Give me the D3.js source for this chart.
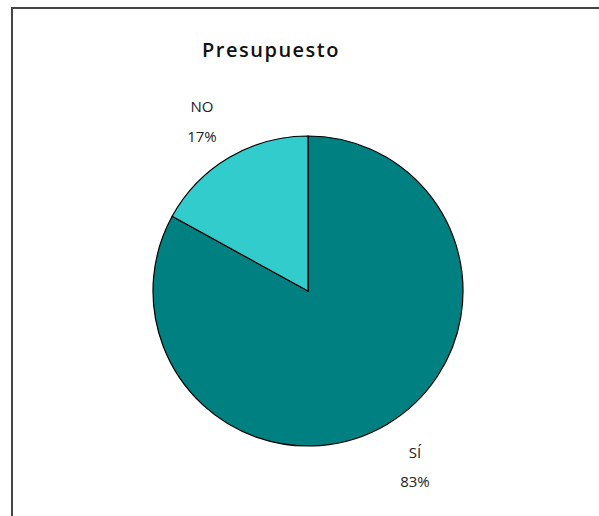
<!DOCTYPE html>
<html><head><meta charset="utf-8">
<script src="https://cdn.jsdelivr.net/npm/d3@7"></script>
<style>body{margin:0;background:#fff}svg{display:block}</style>
</head><body>
<script>
const categories = ["SÍ", "NO"];
const values = [83, 17];
const percentLabels = ["83%", "17%"];
const colors = ["#008080", "#33CCCC"];
const title = "Presupuesto";

const W = 599, H = 516;
const svg = d3.select("body").append("svg").attr("width", W).attr("height", H);
svg.append("rect").attr("width", W).attr("height", H).attr("fill", "#fff");
svg.append("rect").attr("x", 12).attr("y", 8).attr("width", 700).attr("height", 700)
  .attr("fill", "none").attr("stroke", "#444").attr("stroke-width", 2);

svg.append("text").attr("x", 271).attr("y", 57).attr("text-anchor", "middle")
  .attr("font-family", "Open Sans, sans-serif").attr("font-weight", "600")
  .attr("font-size", 20).attr("letter-spacing", 1.5).attr("fill", "#111").text(title);

const cx = 308, cy = 291, r = 155;
const pie = d3.pie().sort(null).value(d => d)(values);
const arc = d3.arc().innerRadius(0).outerRadius(r);
const g = svg.append("g").attr("transform", `translate(${cx},${cy})`);
g.selectAll("path").data(pie).join("path")
  .attr("d", arc).attr("fill", (d, i) => colors[i])
  .attr("stroke", "#000").attr("stroke-width", 1.2);

const labelPos = [[415, 458, 487], [202, 112, 142]];
categories.forEach((c, i) => {
  const [x, y1, y2] = labelPos[i];
  svg.append("text").attr("x", x).attr("y", y1).attr("text-anchor", "middle")
    .attr("font-family", "Open Sans, sans-serif").attr("font-size", 15).attr("fill", "#222").text(c);
  svg.append("text").attr("x", x).attr("y", y2).attr("text-anchor", "middle")
    .attr("font-family", "Open Sans, sans-serif").attr("font-size", 15).attr("fill", "#222").text(percentLabels[i]);
});
</script>
</body></html>
